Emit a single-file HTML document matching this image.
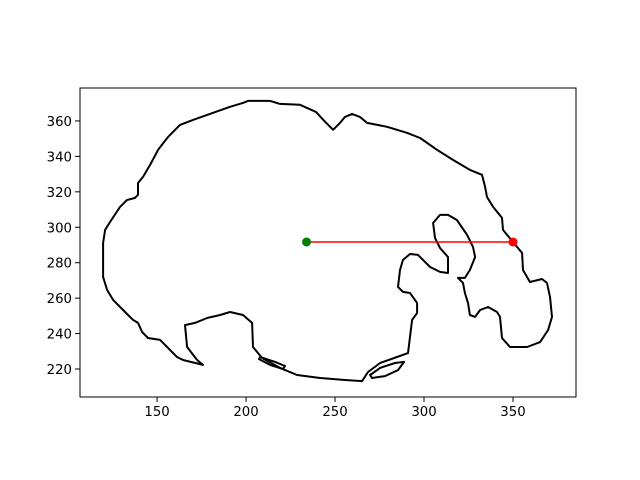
<!DOCTYPE html>
<html><head><meta charset="utf-8"><style>html,body{margin:0;padding:0;background:#fff}svg{display:block}</style></head>
<body>
<svg id="chart" width="640" height="480" xmlns="http://www.w3.org/2000/svg" font-family="DejaVu Sans, Liberation Sans, sans-serif" font-size="13.3">
<rect width="640" height="480" fill="#fff"/>
<g id="plot"></g>
</svg>
<script>
const contourX=[201.1,213.5,219.1,230.3,239.3,244.4,248.9,252.8,255.6,259.6,264.0,268.0,279.2,290.4,297.8,307.3,316.3,325.8,332.6,334.3,335.4,338.8,343.8,344.4,350.0,355.1,355.6,359.5,366.3,369.1,370.8,371.9,369.7,365.2,357.9,348.3,343.8,342.7,341.0,336.0,331.5,328.7,325.8,324.7,323.0,321.9,319.1,323.0,325.8,328.7,327.5,324.2,318.5,313.5,309.0,305.1,306.2,309.0,313.5,313.5,309.0,303.4,296.6,292.1,288.2,286.5,285.4,288.2,292.1,296.1,296.1,293.3,292.1,291.0,284.8,275.3,268.5,265.2,255.6,241.6,228.7,219.1,209.0,203.9,203.4,198.3,191.0,185.4,178.1,171.3,165.7,166.9,172.5,175.8,164.6,161.2,151.7,144.9,141.6,139.3,136.5,130.9,125.3,121.9,119.7,119.7,120.8,123.6,129.2,133.1,137.6,139.3,139.3,142.1,146.1,150.6,156.2,162.9,170.2,181.5,191.0,198.3];
const contourY=[371.3,371.3,369.6,369.1,365.1,359.5,355.0,358.9,362.3,364.0,362.3,358.9,356.7,353.3,350.4,343.7,338.0,332.4,329.6,322.8,317.1,311.5,305.3,298.5,291.7,285.5,275.9,269.1,270.8,268.6,260.7,249.4,242.0,235.2,232.4,232.4,237.5,249.4,252.2,255.0,253.3,249.4,250.5,257.3,262.9,268.6,271.4,271.4,275.9,283.2,288.9,295.7,304.1,307.0,307.0,302.4,294.0,288.3,283.2,274.2,274.8,277.6,284.4,284.9,281.6,275.9,266.3,263.5,262.9,257.3,251.6,247.7,238.1,229.0,226.8,223.4,218.3,213.2,213.8,214.9,216.6,220.6,226.2,232.4,246.0,250.5,252.2,250.5,248.8,246.0,244.8,232.4,225.1,222.3,225.1,226.8,236.4,237.5,240.9,246.0,247.7,253.3,259.0,264.6,272.0,291.2,298.5,303.0,311.5,315.4,316.6,318.3,325.0,328.4,335.2,343.7,351.0,357.8,360.6,364.6,368.0,370.2];
const loop1X=[207.9,216.3,221.9,220.8,213.5,207.3];
const loop1Y=[226.8,224.0,221.7,220.0,222.3,225.6];
const loop2X=[269.7,275.3,283.7,288.8,285.4,278.1,270.8];
const loop2Y=[216.6,220.6,223.4,224.0,219.4,216.0,214.9];
const startPt=[234,291.7];
const endPt=[350,291.7];
const xTicks=[150,200,250,300,350];
const yTicks=[220,240,260,280,300,320,340,360];
const L=80,R=576,T=88,B=397;
const xMin=106.7,xMax=385.4,yMin=204.2,yMax=378.6;
const sx=v=>L+(v-xMin)/(xMax-xMin)*(R-L);
const sy=v=>B-(v-yMin)/(yMax-yMin)*(B-T);
const NS='http://www.w3.org/2000/svg';
const g=document.getElementById('plot');
function mk(t,a){const e=document.createElementNS(NS,t);for(const k in a)e.setAttribute(k,a[k]);g.appendChild(e);return e;}
function poly(xs,ys,name){
  const pts=xs.map((x,i)=>sx(x).toFixed(1)+','+sy(ys[i]).toFixed(1)).join(' ');
  const e=mk('polygon',{points:pts,fill:'none',stroke:'#000','stroke-width':2,'stroke-linejoin':'round'});
  
  
}
poly(contourX,contourY,'contour-outline');
poly(loop1X,loop1Y,'contour-loop-left');
poly(loop2X,loop2Y,'contour-loop-right');
const ln=mk('line',{x1:sx(startPt[0]),y1:sy(startPt[1]),x2:sx(endPt[0]),y2:sy(endPt[1]),stroke:'#ff0000','stroke-width':1.5});


const c1=mk('circle',{cx:sx(startPt[0]),cy:sy(startPt[1]),r:4.5,fill:'#008000'});


const c2=mk('circle',{cx:sx(endPt[0]),cy:sy(endPt[1]),r:4.5,fill:'#ff0000'});


const fr=mk('rect',{x:L,y:T,width:R-L,height:B-T,fill:'none',stroke:'#000','stroke-width':1});


xTicks.forEach(v=>{
  const x=sx(v);
  const t=mk('line',{x1:x,y1:B,x2:x,y2:B+5,stroke:'#000','stroke-width':1});
  
  
  const l=mk('text',{x:x,y:B+19,'text-anchor':'middle',fill:'#000'});
  l.textContent=v;
  
  
});
yTicks.forEach(v=>{
  const y=sy(v);
  const t=mk('line',{x1:L-5,y1:y,x2:L,y2:y,stroke:'#000','stroke-width':1});
  
  
  const l=mk('text',{x:L-8,y:y+5,'text-anchor':'end',fill:'#000'});
  l.textContent=v;
  
  
});
</script>
</body></html>
